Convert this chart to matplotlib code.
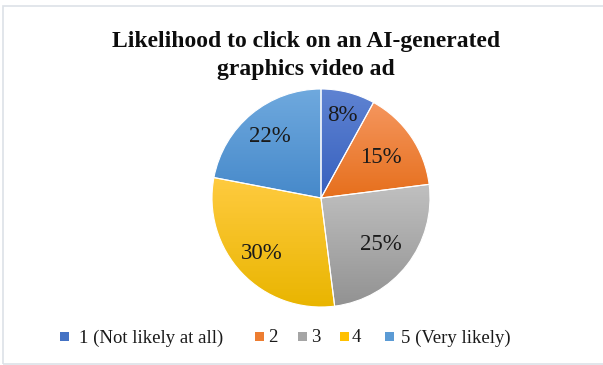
import numpy as np
import matplotlib.pyplot as plt
from matplotlib.patches import Rectangle
from matplotlib.colors import LinearSegmentedColormap

categories = ["1 (Not likely at all)", "2", "3", "4", "5 (Very likely)"]
shares = [8, 15, 25, 30, 22]
top_colors = ["#5F83D2", "#F5965E", "#C0C0C0", "#FFCB40", "#6FA9DE"]
bottom_colors = ["#3660BE", "#E66F1C", "#929292", "#E9B500", "#4689CA"]
flat_colors = ["#4472C4", "#ED7D31", "#A5A5A5", "#FFC000", "#5B9BD5"]

plt.rcParams['font.family'] = ['Liberation Serif', 'DejaVu Serif']

W, H = 603, 365
fig = plt.figure(figsize=(W / 100, H / 100), dpi=100)
fig.patch.set_facecolor("white")

# thin frame round the chart area
fig.add_artist(Rectangle((2.5 / W, 1.5 / H), (W + 5) / W, (H - 7) / H,
                         transform=fig.transFigure, fill=False,
                         edgecolor="#DDE2E8", linewidth=1.2))

cx, cy, r = 321, 198, 109
ax = fig.add_axes([(cx - r) / W, (H - cy - r) / H, 2 * r / W, 2 * r / H])
ax.set_xlim(-1, 1)
ax.set_ylim(-1, 1)
ax.set_aspect("equal")
ax.axis("off")

wedges, texts = ax.pie(shares, colors=flat_colors, startangle=90,
                       counterclock=False, radius=1,
                       wedgeprops=dict(edgecolor="white", linewidth=0.8))

# vertical light-to-dark shading inside each slice
for w, c_top, c_bot in zip(wedges, top_colors, bottom_colors):
    ext = w.get_path().get_extents()
    cmap = LinearSegmentedColormap.from_list("g", [c_bot, c_top])
    grad = np.linspace(0, 1, 256).reshape(-1, 1)
    im = ax.imshow(grad, cmap=cmap, origin="lower", aspect="auto",
                   extent=[ext.x0, ext.x1, ext.y0, ext.y1], zorder=w.get_zorder())
    im.set_clip_path(w)
    w.set_facecolor("none")
    w.set_zorder(im.get_zorder() + 0.1)
ax.set_xlim(-1, 1)
ax.set_ylim(-1, 1)

# percentage labels, pushed out a little differently per slice
label_dist = [0.78, 0.66, 0.70, 0.74, 0.73]
angle = 90.0
for s, d in zip(shares, label_dist):
    mid = np.deg2rad(angle - s / 100 * 360 / 2)
    ax.text(d * np.cos(mid), d * np.sin(mid), f"{s}%", ha="center", va="center",
            fontsize=16.5, color="#1a1a1a", zorder=5)
    angle -= s / 100 * 360

title_lines = ["Likelihood to click on an AI-generated", "graphics video ad"]
for line, base in zip(title_lines, [47.5, 75]):
    fig.text(306 / W, 1 - base / H, line, ha="center", va="baseline",
             fontsize=17, fontweight="bold", color="#0d0d0d")

# legend row
handle_x = [60, 255, 298, 340, 385]
label_x = [79, 268, 311, 352, 401]
ly = 1 - 336 / H
for hx, tx, lab, col in zip(handle_x, label_x, categories, flat_colors):
    fig.add_artist(Rectangle((hx / W, ly - 4.5 / H), 9 / W, 9 / H,
                             transform=fig.transFigure, facecolor=col,
                             edgecolor="none"))
    fig.text(tx / W, ly - 2 / H, lab, ha="left", va="center", fontsize=13.5, color="#1a1a1a")

fig.savefig("out.png", dpi=100)
